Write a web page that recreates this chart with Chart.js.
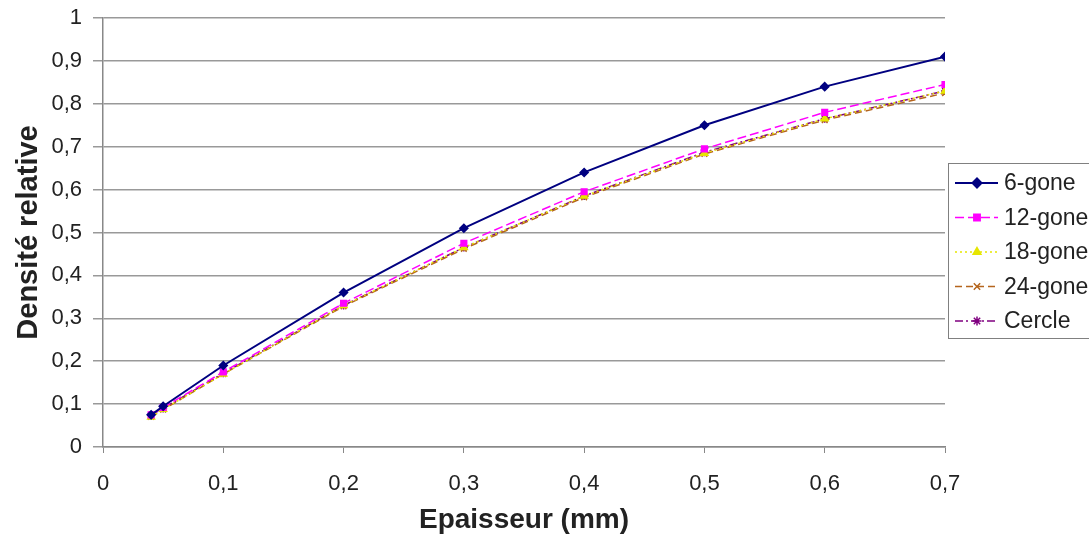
<!DOCTYPE html>
<html>
<head>
<meta charset="utf-8">
<script src="https://cdn.jsdelivr.net/npm/chart.js@4/dist/chart.umd.min.js"></script>
<style>
  html, body { margin: 0; padding: 0; background: #fff; }
  #wrap { width: 1089px; height: 537px; position: relative; }
</style>
</head>
<body>
<div id="wrap"><canvas id="chart"></canvas></div>
<script>
// epaisseur (mm)
const epaisseur = [0.04, 0.05, 0.1, 0.2, 0.3, 0.4, 0.5, 0.6, 0.7];

// densite relative per shape
const gone6   = [0.075, 0.095, 0.19, 0.36, 0.51, 0.64, 0.75, 0.84, 0.91];
const gone12  = [0.075, 0.092, 0.175, 0.335, 0.475, 0.595, 0.695, 0.78, 0.845];
const gone18  = [0.07, 0.088, 0.17, 0.33, 0.465, 0.585, 0.685, 0.765, 0.83];
const gone24  = [0.07, 0.087, 0.17, 0.328, 0.462, 0.582, 0.683, 0.762, 0.825];
const cercle  = [0.075, 0.09, 0.172, 0.33, 0.465, 0.585, 0.687, 0.765, 0.83];

const seriesLabels = ['6-gone', '12-gone', '18-gone', '24-gone', 'Cercle'];

const toPts = arr => arr.map((y, i) => ({ x: epaisseur[i], y }));
const comma = v => String(Math.round(v * 10) / 10).replace('.', ',');
const FONT = '"Liberation Sans", Arial, sans-serif';

const styles = [
  { color: '#000080', point: 'rectRot', radius: 4, dash: [] },
  { color: '#ff00ff', point: 'rect', radius: 4, dash: [9, 4] },
  { color: '#e6e600', point: 'triangle', radius: 4, dash: [2, 3] },
  { color: '#b5651d', point: 'crossRot', radius: 4, dash: [7, 4] },
  { color: '#800080', point: 'star', radius: 4, dash: [8, 3, 2, 3] }
];
const allData = [gone6, gone12, gone18, gone24, cercle];

const datasets = allData.map((d, i) => ({
  label: seriesLabels[i],
  data: toPts(d),
  borderColor: styles[i].color,
  backgroundColor: styles[i].color,
  borderWidth: i === 0 ? 2 : 1.5,
  borderDash: styles[i].dash,
  pointStyle: styles[i].point,
  pointRadius: styles[i].radius,
  pointBorderWidth: 1.5,
  tension: 0
}));

// framed legend, drawn by hand (clipped at the right edge like the original)
const boxLegend = {
  id: 'boxLegend',
  afterDraw(chart) {
    const ctx = chart.ctx;
    const x0 = 948, y0 = 163, w = 160, h = 175;
    ctx.save();
    ctx.strokeStyle = '#808080';
    ctx.lineWidth = 1;
    ctx.strokeRect(x0 + 0.5, y0 + 0.5, w, h);
    ctx.font = '23px ' + FONT;
    ctx.textBaseline = 'middle';
    chart.data.datasets.forEach((ds, i) => {
      const yy = y0 + 20 + i * 34.5;
      ctx.strokeStyle = ds.borderColor;
      ctx.lineWidth = ds.borderWidth;
      ctx.setLineDash(ds.borderDash);
      ctx.beginPath();
      ctx.moveTo(x0 + 7, yy);
      ctx.lineTo(x0 + 50, yy);
      ctx.stroke();
      ctx.setLineDash([]);
      ctx.fillStyle = ds.backgroundColor;
      Chart.helpers.drawPoint(ctx, { pointStyle: ds.pointStyle, radius: 4.5, borderWidth: 1.5 }, x0 + 29, yy);
      ctx.fillStyle = '#222';
      ctx.fillText(ds.label, x0 + 56, yy + 1);
    });
    ctx.restore();
  }
};

new Chart(document.getElementById('chart'), {
  type: 'line',
  data: { datasets },
  plugins: [boxLegend],
  options: {
    responsive: true,
    maintainAspectRatio: false,
    animation: false,
    layout: { padding: { top: 18, right: 144, left: 0, bottom: 0 } },
    plugins: { legend: { display: false }, tooltip: { enabled: false } },
    scales: {
      x: {
        type: 'linear',
        min: 0, max: 0.7,
        ticks: {
          stepSize: 0.1,
          color: '#222',
          font: { family: FONT, size: 22 },
          padding: 18,
          callback: v => comma(v)
        },
        grid: { drawOnChartArea: false, color: '#888', tickLength: 6 },
        border: { color: '#888', width: 1.5 },
        title: {
          display: true, text: 'Epaisseur (mm)', color: '#222',
          font: { family: FONT, size: 28, weight: 'bold' },
          padding: { top: 0, bottom: 0 }
        },
        afterFit: s => { s.height = 90; s.paddingLeft = 0; s.paddingRight = 0; }
      },
      y: {
        min: 0, max: 1,
        ticks: {
          stepSize: 0.1,
          color: '#222',
          font: { family: FONT, size: 22 },
          padding: 11,
          callback: v => comma(v)
        },
        grid: { color: '#999', lineWidth: 1.5, tickLength: 10 },
        border: { color: '#888', width: 1.5 },
        title: {
          display: true, text: 'Densité relative', color: '#222',
          font: { family: FONT, size: 29, weight: 'bold' },
          padding: { top: 12, bottom: 0 }
        },
        afterFit: s => { s.width = 103; s.paddingTop = 0; s.paddingBottom = 0; }
      }
    }
  }
});
</script>
</body>
</html>
